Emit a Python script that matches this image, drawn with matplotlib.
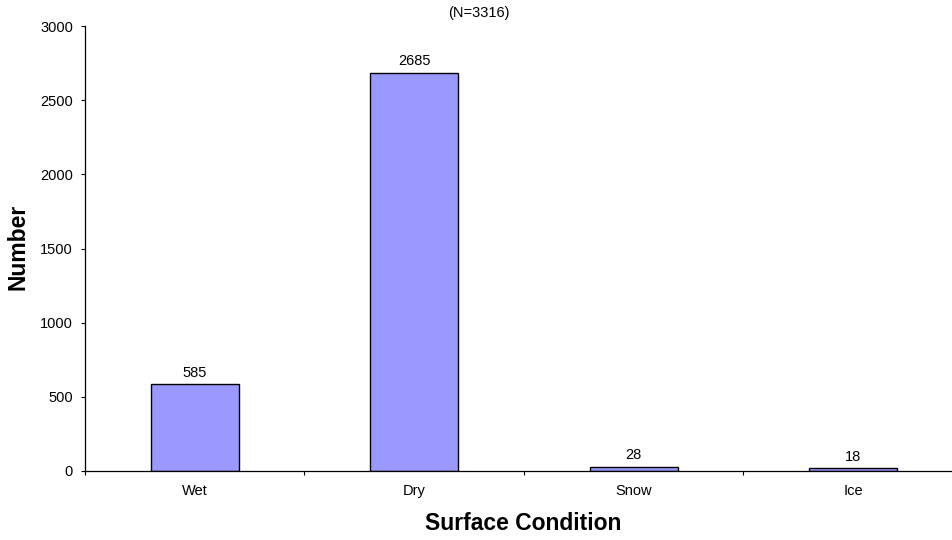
import matplotlib
matplotlib.use("Agg")
import matplotlib.pyplot as plt
import numpy as np

plt.rcParams['font.family'] = ['Liberation Sans', 'DejaVu Sans']

categories = ["Wet", "Dry", "Snow", "Ice"]
counts = [585, 2685, 28, 18]
y_ticks = [0, 500, 1000, 1500, 2000, 2500, 3000]
total_label = "(N=3316)"

SMALL = 10.5
BIG = 16.5

fig = plt.figure(figsize=(9.53, 5.40), dpi=100)
# axes spans the plot area; the right edge runs past the figure border
left, right = 85 / 953, 963 / 953
bottom, top = 1 - 471 / 540, 1 - 26 / 540
ax = fig.add_axes([left, bottom, right - left, top - bottom])

x = np.arange(len(categories))
ax.bar(x, counts, width=0.4, color="#9999FF", edgecolor="black", linewidth=1.0)

for xi, v in zip(x, counts):
    ax.annotate(str(v), (xi, v), xytext=(0, 5.5), textcoords="offset points",
                ha="center", va="baseline", fontsize=SMALL)

ax.set_xlim(-0.5, len(categories) - 0.5)
ax.set_ylim(0, 3000)
ax.set_yticks(y_ticks)
ax.set_yticklabels([str(t) for t in y_ticks], fontsize=SMALL)

# category labels centered, tick marks at category boundaries
ax.set_xticks(np.arange(-0.5, len(categories) + 0.5, 1.0))
ax.set_xticklabels([])
ax.set_xticks(x, minor=True)
ax.set_xticklabels(categories, minor=True, fontsize=SMALL)
ax.tick_params(axis="x", which="minor", length=0, pad=9.5)
ax.tick_params(axis="x", which="major", length=3, direction="out", width=0.8)
ax.tick_params(axis="y", length=3, direction="out", width=0.8, pad=5.6)

for s in ["top", "right"]:
    ax.spines[s].set_visible(False)
ax.spines["left"].set_linewidth(0.9)
ax.spines["bottom"].set_linewidth(0.9)

fig.text(478.5 / 953, 1 - 12.5 / 540, total_label, ha="center", va="center", fontsize=SMALL)
fig.text(18.5 / 953, 1 - 246.5 / 540, "Number", rotation=90, ha="center", va="center",
         fontsize=BIG, fontweight="bold")
fig.text(523 / 953, 1 - 523 / 540, "Surface Condition", ha="center", va="center",
         fontsize=BIG, fontweight="bold")

fig.savefig("out.png", dpi=100)
